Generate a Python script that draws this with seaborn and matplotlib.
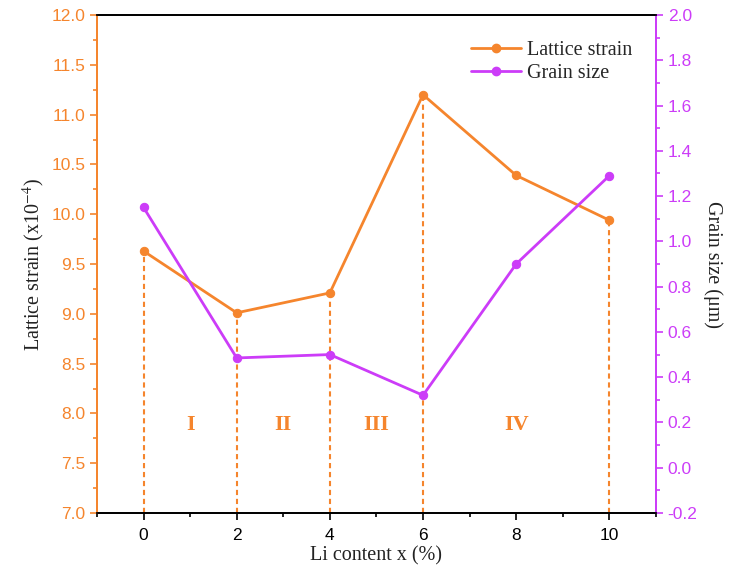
import numpy as np
import pandas as pd
import matplotlib
matplotlib.use("Agg")
import matplotlib.pyplot as plt
from matplotlib.ticker import MultipleLocator
from matplotlib.lines import Line2D
import seaborn as sns

# data
li_content = [0, 2, 4, 6, 8, 10]
lattice_strain = [9.63, 9.01, 9.21, 11.20, 10.39, 9.94]
grain_size = [1.15, 0.485, 0.50, 0.32, 0.90, 1.29]
dashed_at = [0, 2, 4, 6, 10]
region_labels = ["I", "II", "III", "IV"]
region_x = [1, 3, 5, 8]

ORANGE = "#F5852D"
PURPLE = "#CC3CF8"

sns.set_theme(style="ticks")
plt.rcParams['font.family'] = ['Liberation Sans', 'DejaVu Sans']
plt.rcParams['mathtext.fontset'] = 'stix'

df = pd.DataFrame({"x": li_content, "strain": lattice_strain, "grain": grain_size})

fig, ax = plt.subplots(figsize=(7.32, 5.79), dpi=100)
fig.subplots_adjust(left=0.1325, right=0.896, top=0.974, bottom=0.114)
ax2 = ax.twinx()

sns.lineplot(data=df, x="x", y="strain", ax=ax, color=ORANGE, marker="o",
             markersize=6, linewidth=2, markeredgecolor=ORANGE, zorder=3)
sns.lineplot(data=df, x="x", y="grain", ax=ax2, color=PURPLE, marker="o",
             markersize=6, linewidth=2, markeredgecolor=PURPLE, zorder=3)

# dashed drop lines from the strain points
for xv in dashed_at:
    yv = lattice_strain[li_content.index(xv)]
    ax.plot([xv, xv], [7.0, yv], ls=(0, (2.5, 1.8)), color=ORANGE, lw=1.5, zorder=2)

for lab, xv in zip(region_labels, region_x):
    ax.text(xv, 7.88, lab, color=ORANGE, fontsize=16, fontweight="bold",
            family=["Liberation Serif"], ha="center", va="center")

ax.set_xlim(-1, 11)
ax.set_ylim(7.0, 12.0)
ax2.set_ylim(-0.2, 2.0)

ax.xaxis.set_major_locator(MultipleLocator(2))
ax.xaxis.set_minor_locator(MultipleLocator(1))
ax.yaxis.set_minor_locator(MultipleLocator(0.25))
ax2.yaxis.set_minor_locator(MultipleLocator(0.1))

left_ticks = np.arange(7.0, 12.01, 0.5)
ax.set_yticks(left_ticks)
ax.set_yticklabels([f"{v:.1f}" for v in left_ticks])
right_ticks = np.arange(-0.2, 2.01, 0.2)
ax2.set_yticks(right_ticks)
ax2.set_yticklabels([f"{v:.1f}" if abs(v) > 1e-9 else "0.0" for v in right_ticks])

ax.tick_params(axis="x", which="both", direction="out", colors="black", labelsize=12.5, pad=6)
ax.tick_params(axis="x", which="major", length=5, width=1.2)
ax.tick_params(axis="x", which="minor", length=3, width=1.2)
ax.tick_params(axis="y", which="both", direction="out", colors=ORANGE, labelsize=12.5)
ax.tick_params(axis="y", which="major", length=5, width=1.2)
ax.tick_params(axis="y", which="minor", length=3, width=1.2)
ax2.tick_params(axis="y", which="both", direction="out", colors=PURPLE, labelsize=12.5)
ax2.tick_params(axis="y", which="major", length=5, width=1.2)
ax2.tick_params(axis="y", which="minor", length=3, width=1.2)

for a in (ax, ax2):
    a.spines["top"].set_color("black")
    a.spines["bottom"].set_color("black")
    a.spines["left"].set_color(ORANGE)
    a.spines["right"].set_color(PURPLE)
    for s in a.spines.values():
        s.set_linewidth(1.3)
    a.spines["right"].set_visible(True)
    a.spines["top"].set_visible(True)

ax.set_xlabel("Li content x (%)", family=["Liberation Serif"], fontsize=14.5, color="#222222",
              labelpad=2)
ax.set_ylabel("Lattice strain (x10$^{-4}$)", family=["Liberation Serif"], fontsize=14.5,
              color="#222222", labelpad=3)
ax2.set_ylabel("Grain size (\u03bcm)", family=["Liberation Serif"], fontsize=14.5,
               color="#222222", rotation=270, labelpad=18)

handles = [Line2D([], [], color=ORANGE, marker="o", markersize=6, lw=2),
           Line2D([], [], color=PURPLE, marker="o", markersize=6, lw=2)]
ax2.legend(handles, ["Lattice strain", "Grain size"], loc="upper right",
           bbox_to_anchor=(0.99, 0.985), frameon=False, handlelength=2.5,
           handletextpad=0.3, labelspacing=0.2,
           prop={"family": "Liberation Serif", "size": 14.5})

fig.savefig("out.png", dpi=100)
